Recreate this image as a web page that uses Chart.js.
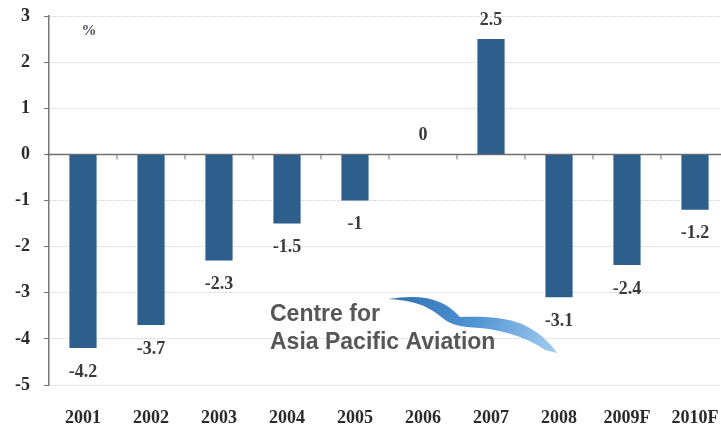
<!DOCTYPE html>
<html>
<head>
<meta charset="utf-8">
<script src="https://cdn.jsdelivr.net/npm/chart.js@4"></script>
<style>
  html, body { margin: 0; padding: 0; background: #fff; overflow: hidden; }
  #wrap { width: 731px; height: 429px; }
</style>
</head>
<body>
<div id="wrap"><canvas id="chart"></canvas></div>
<script>
const years = ['2001', '2002', '2003', '2004', '2005', '2006', '2007', '2008', '2009F', '2010F'];
const growth = [-4.2, -3.7, -2.3, -1.5, -1, 0, 2.5, -3.1, -2.4, -1.2];
const yTicks = [-5, -4, -3, -2, -1, 0, 1, 2, 3];

const serif = '"Liberation Serif", "Times New Roman", serif';

// zero line with category tick marks + value labels
const zeroLine = {
    id: 'zeroLine',
    beforeDatasetsDraw(chart) {
        const { ctx, chartArea, scales } = chart;
        const y0 = scales.y.getPixelForValue(0);
        ctx.save();
        ctx.strokeStyle = '#6f6f6f';
        ctx.lineWidth = 1.5;
        ctx.beginPath();
        ctx.moveTo(chartArea.left - 2, y0);
        ctx.lineTo(chartArea.right, y0);
        ctx.stroke();
        ctx.lineWidth = 1;
        for (let i = 1; i < years.length; i++) {
            const x = (scales.x.getPixelForValue(i - 1) + scales.x.getPixelForValue(i)) / 2;
            ctx.beginPath();
            ctx.moveTo(x, y0);
            ctx.lineTo(x, y0 + 5);
            ctx.stroke();
        }
        ctx.restore();
    },
    afterDatasetsDraw(chart) {
        const { ctx } = chart;
        const meta = chart.getDatasetMeta(0);
        ctx.save();
        ctx.font = 'bold 18px ' + serif;
        ctx.fillStyle = '#3a3a3a';
        ctx.textAlign = 'center';
        ctx.textBaseline = 'middle';
        meta.data.forEach((bar, i) => {
            const v = growth[i];
            const y = v < 0 ? bar.y + 24 : bar.y - 19;
            ctx.fillText(String(v), bar.x, y);
        });
        ctx.font = 'bold 15px ' + serif;
        ctx.fillStyle = '#4a4f5a';
        ctx.fillText('%', chart.chartArea.left + 40, 31);
        ctx.restore();
    }
};

// watermark logo
const watermark = {
    id: 'watermark',
    afterDraw(chart) {
        const { ctx } = chart;
        ctx.save();
        const g = ctx.createLinearGradient(388, 299, 557, 352);
        g.addColorStop(0, '#2f6fb0');
        g.addColorStop(0.5, '#4f93d3');
        g.addColorStop(1, '#a3cdee');
        ctx.fillStyle = g;
        ctx.beginPath();
        ctx.moveTo(388, 299);
        ctx.bezierCurveTo(425, 293, 445, 300, 460, 317);
        ctx.bezierCurveTo(480, 316, 505, 317, 522, 324);
        ctx.bezierCurveTo(540, 332, 551, 344, 557, 353);
        ctx.lineTo(545, 350);
        ctx.bezierCurveTo(532, 340, 505, 330, 480, 328);
        ctx.bezierCurveTo(460, 327, 450, 325, 440, 316);
        ctx.bezierCurveTo(425, 304, 410, 300, 388, 299);
        ctx.closePath();
        ctx.fill();
        ctx.font = 'bold 23px "Liberation Sans", Arial, sans-serif';
        ctx.fillStyle = '#575757';
        ctx.textBaseline = 'alphabetic';
        ctx.fillText('Centre for', 270, 321);
        ctx.fillText('Asia Pacific Aviation', 270, 349);
        ctx.restore();
    }
};

new Chart(document.getElementById('chart'), {
    type: 'bar',
    data: {
        labels: years,
        datasets: [
            {
                data: growth,
                backgroundColor: '#2d5e8c',
                borderWidth: 0,
                barPercentage: 0.4,
                categoryPercentage: 1
            }
        ]
    },
    options: {
        responsive: true,
        maintainAspectRatio: false,
        animation: false,
        layout: { padding: { top: 16, right: 2, bottom: 0, left: 2 } },
        plugins: {
            legend: { display: false },
            tooltip: { enabled: false }
        },
        scales: {
            x: {
                grid: { display: false },
                border: { display: false },
                ticks: {
                    padding: 15,
                    color: '#2a2a2a',
                    font: { family: serif, size: 18, weight: 'bold' }
                },
                afterFit(scale) { scale.height = 44; scale.paddingLeft = 0; scale.paddingRight = 0; }
            },
            y: {
                min: -5,
                max: 3,
                afterBuildTicks(scale) { scale.ticks = yTicks.map(v => ({ value: v })); },
                grid: {
                    color: ctx => ctx.tick && ctx.tick.value === 0 ? 'rgba(0,0,0,0)' : '#cfcfcf',
                    lineWidth: 1,
                    tickLength: 5,
                    tickColor: '#777',
                    tickBorderDash: []
                },
                border: { display: true, color: '#777', width: 1.5, dash: [2, 2] },
                ticks: {
                    padding: 14,
                    color: '#2a2a2a',
                    font: { family: serif, size: 18, weight: 'bold' }
                },
                afterFit(scale) { scale.width = 47; scale.paddingTop = 0; scale.paddingBottom = 0; }
            }
        }
    },
    plugins: [zeroLine, watermark]
});
</script>
</body>
</html>
